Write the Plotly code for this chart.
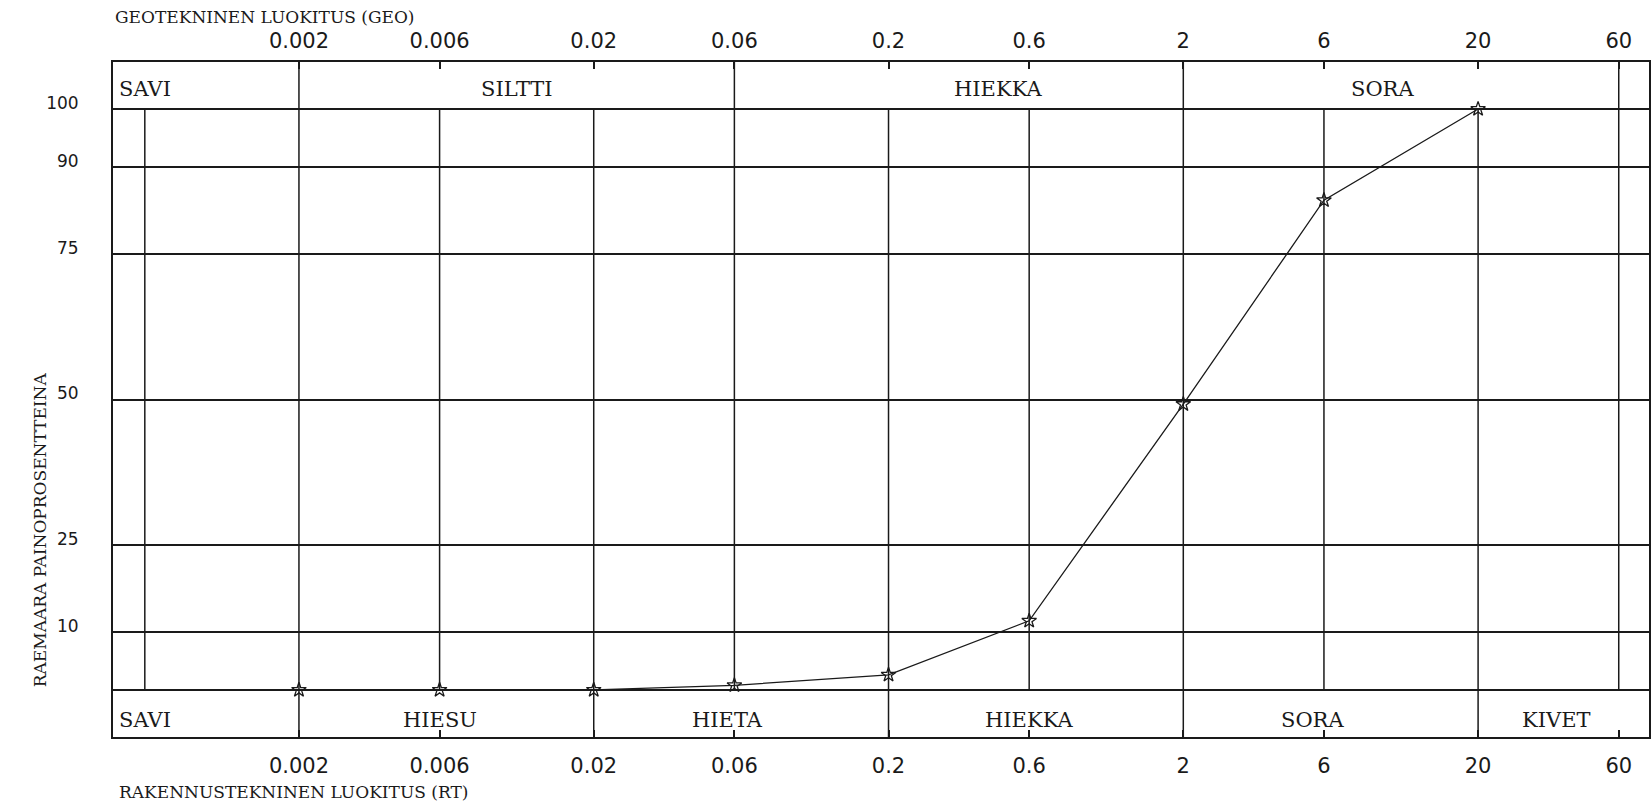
import numpy as np
import plotly.graph_objects as go

# raekoko (mm) ja lapaisy (%)
grain_mm = [0.002, 0.006, 0.02, 0.06, 0.2, 0.6, 2, 6, 20]
passing_pct = [0, 0, 0, 0.8, 2.6, 11.9, 49.2, 84.3, 100]

tick_mm = [0.002, 0.006, 0.02, 0.06, 0.2, 0.6, 2, 6, 20, 60]
tick_txt = ['0.002', '0.006', '0.02', '0.06', '0.2', '0.6', '2', '6', '20', '60']
grid_mm = [0.0006] + tick_mm
y_ticks = [0, 10, 25, 50, 75, 90, 100]
y_txt = ['', '10', '25', '50', '75', '90', '100']

# GEO luokitus (ylakaista)
geo_names = ['SAVI', 'SILTTI', 'HIEKKA', 'SORA']
geo_pos = [0.0006, 0.011, 0.47, 9.5]
geo_bounds = [0.002, 0.06, 2, 60]

# RT luokitus (alakaista)
rt_names = ['SAVI', 'HIESU', 'HIETA', 'HIEKKA', 'SORA', 'KIVET']
rt_pos = [0.0006, 0.006, 0.057, 0.6, 5.5, 37]
rt_bounds = [0.002, 0.02, 0.2, 2, 20]

X_MIN, X_MAX = 0.000468, 76
Y_MIN, Y_MAX = -8.1, 108.1
INK = '#1a1a1a'
SERIF = 'DejaVu Serif'
SANS = 'DejaVu Sans'

fig = go.Figure()
fig.add_trace(go.Scatter(
    x=grain_mm, y=passing_pct, mode='lines+markers',
    line=dict(color=INK, width=1.3),
    marker=dict(symbol='star-open', size=11, color=INK, line=dict(width=1.3)),
    showlegend=False, hoverinfo='x+y'))
# dummy trace so the top axis gets drawn
fig.add_trace(go.Scatter(x=tick_mm, y=[None] * len(tick_mm), xaxis='x2',
                         showlegend=False, hoverinfo='skip'))

shapes = []
for v in grid_mm:
    shapes.append(dict(type='line', xref='x', yref='y', x0=v, x1=v, y0=0, y1=100,
                       line=dict(color=INK, width=1.5), layer='below'))
for v in geo_bounds:
    shapes.append(dict(type='line', xref='x', yref='y', x0=v, x1=v, y0=100, y1=Y_MAX,
                       line=dict(color=INK, width=1.5), layer='below'))
for v in rt_bounds:
    shapes.append(dict(type='line', xref='x', yref='y', x0=v, x1=v, y0=Y_MIN, y1=0,
                       line=dict(color=INK, width=1.5), layer='below'))

annotations = []
for name, pos in zip(geo_names, geo_pos):
    annotations.append(dict(x=np.log10(pos), y=103.4, xref='x', yref='y', text=name,
                            showarrow=False, font=dict(family=SERIF, size=21, color=INK)))
for name, pos in zip(rt_names, rt_pos):
    annotations.append(dict(x=np.log10(pos), y=-5.2, xref='x', yref='y', text=name,
                            showarrow=False, font=dict(family=SERIF, size=21, color=INK)))
annotations.append(dict(x=0, y=1.0667, xref='paper', yref='paper', xanchor='left', yanchor='middle',
                        text='GEOTEKNINEN LUOKITUS (GEO)', showarrow=False,
                        font=dict(family=SERIF, size=17, color=INK)))
annotations.append(dict(x=0.0026, y=-0.0815, xref='paper', yref='paper', xanchor='left', yanchor='middle',
                        text='RAKENNUSTEKNINEN LUOKITUS (RT)', showarrow=False,
                        font=dict(family=SERIF, size=17, color=INK)))
annotations.append(dict(x=-0.0553, y=27.5, xref='paper', yref='y', textangle=-90,
                        text='RAEMAARA PAINOPROSENTTEINA', showarrow=False,
                        font=dict(family=SERIF, size=17, color=INK)))

axis_x = dict(type='log', range=[np.log10(X_MIN), np.log10(X_MAX)],
              tickvals=tick_mm, ticktext=tick_txt, ticks='inside', ticklen=7,
              tickcolor=INK, tickwidth=1.5, showgrid=False, zeroline=False,
              showline=True, linecolor=INK, linewidth=2, automargin=False,
              tickfont=dict(family=SANS, size=21, color=INK))

fig.update_layout(
    width=1651, height=806,
    margin=dict(l=113, r=2, t=62, b=69),
    paper_bgcolor='white', plot_bgcolor='white',
    xaxis=dict(axis_x, side='bottom', ticklabelstandoff=9),
    xaxis2=dict(axis_x, side='top', overlaying='x', anchor='y', ticklabelstandoff=4),
    yaxis=dict(range=[Y_MIN, Y_MAX], tickvals=y_ticks, ticktext=y_txt, ticks='',
               showgrid=True, gridcolor=INK, gridwidth=1.5, zeroline=False,
               showline=True, mirror=True, linecolor=INK, linewidth=2,
               ticklabelstandoff=29, ticklabelshift=-6, automargin=False,
               tickfont=dict(family=SANS, size=17, color=INK)),
    shapes=shapes, annotations=annotations,
)

# page body has an 8px default margin; drop it so the figure fills the window
fig.write_html('out.html', config={'displayModeBar': False},
               post_script="document.body.style.margin='0';")
